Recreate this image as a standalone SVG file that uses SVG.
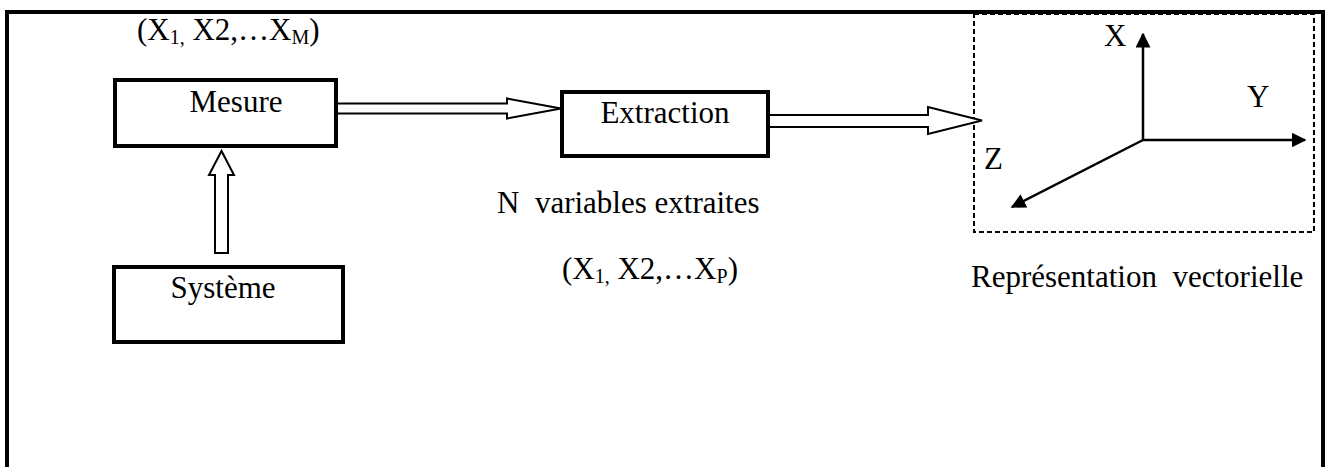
<svg xmlns="http://www.w3.org/2000/svg" width="1329" height="467" viewBox="0 0 1329 467">
<style>
text{font-family:"Liberation Serif","Times New Roman",serif;font-size:31px;fill:#000}
.sub{font-size:20px}
.box{fill:#fff;stroke:#000;stroke-width:4}
.block{fill:#fff;stroke:#000;stroke-width:2;stroke-linejoin:miter}
.axis{stroke:#000;stroke-width:2.5;fill:none}
.frame{stroke:#000;stroke-width:4;fill:none}
</style>
<defs>
<marker id="ah" viewBox="0 0 10 10" refX="9" refY="5" markerWidth="6" markerHeight="6" orient="auto" markerUnits="strokeWidth">
<path d="M0,0 L10,5 L0,10 z" fill="#000"/>
</marker>
</defs>
<rect width="1329" height="467" fill="#fff"/>
<g id="frame">
<path class="frame" d="M7,467 V12 H1323 V467"/>
</g>
<g id="mesure">
<rect class="box" x="115" y="80" width="221" height="66"/>
<text x="236" y="112" text-anchor="middle">Mesure</text>
</g>
<g id="label-xm">
<text x="137" y="40">(X<tspan class="sub" dy="4">1,</tspan><tspan dy="-4"> X2,…X</tspan><tspan class="sub" dy="4">M</tspan><tspan dy="-4">)</tspan></text>
</g>
<g id="systeme">
<rect class="box" x="114" y="267" width="229" height="75"/>
<text x="223" y="298" text-anchor="middle">Système</text>
</g>
<g id="extraction">
<rect class="box" x="562" y="92" width="206" height="64"/>
<text x="665" y="123" text-anchor="middle">Extraction</text>
</g>
<g id="label-n">
<text x="497" y="213" xml:space="preserve">N  variables extraites</text>
<text x="562" y="279">(X<tspan class="sub" dy="4">1,</tspan><tspan dy="-4"> X2,…X</tspan><tspan class="sub" dy="4">P</tspan><tspan dy="-4">)</tspan></text>
</g>
<g id="representation">
<rect x="974" y="14" width="340" height="218" fill="none" stroke="#000" stroke-width="2" stroke-dasharray="5,3"/>
<text x="1104" y="46">X</text>
<text x="1247" y="107">Y</text>
<text x="984" y="169">Z</text>
<text x="971" y="287" xml:space="preserve">Représentation  vectorielle</text>
</g>
<g id="connectors">
<polygon class="block" points="337,103.5 507,103.5 507,98.5 561,108.5 507,118.5 507,113.5 337,113.5"/>
<polygon class="block" points="769,115 928,115 928,107 982,120.5 928,134 928,127 769,127"/>
<polygon class="block" points="215,253 215,175 209,175 221.5,151 234,175 228,175 228,253"/>
<line class="axis" x1="1143" y1="140" x2="1143" y2="34" marker-end="url(#ah)"/>
<line class="axis" x1="1143" y1="140" x2="1305" y2="140" marker-end="url(#ah)"/>
<line class="axis" x1="1143" y1="140" x2="1012" y2="207" marker-end="url(#ah)"/>
</g>
</svg>
